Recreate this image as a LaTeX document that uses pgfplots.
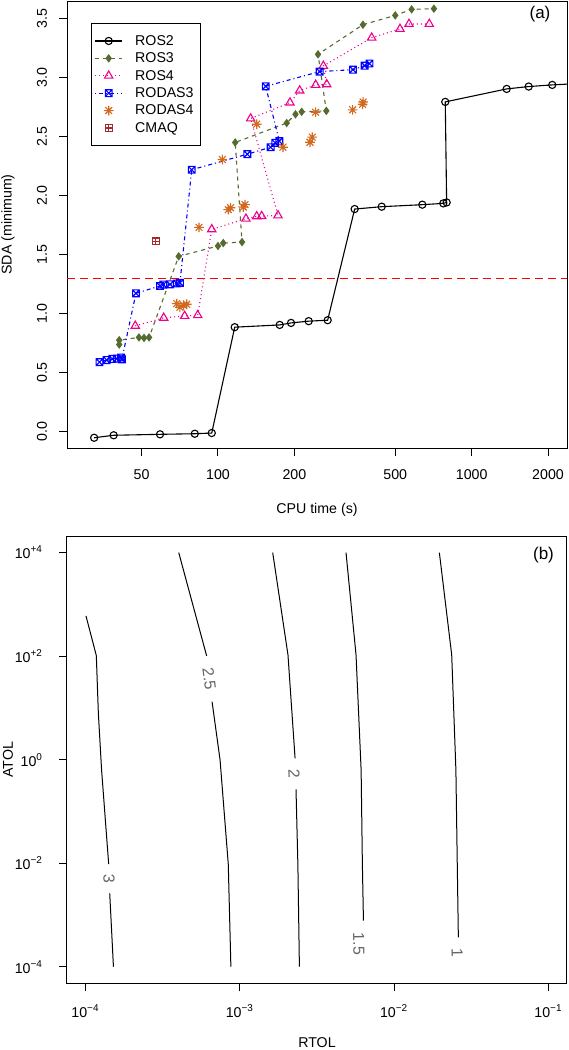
\documentclass[border=0pt]{standalone}
\usepackage{pgfplots}
\pgfplotsset{compat=1.18}
\usepackage{fontspec}
\setmainfont{Liberation Sans}
\definecolor{ros3c}{HTML}{556B2F}
\definecolor{rodas4c}{HTML}{D2691E}
\definecolor{cmaqc}{HTML}{A52A2A}
\pgfdeclareplotmark{boxtimes}{%
  \pgfpathrectangle{\pgfpoint{-\pgfplotmarksize}{-\pgfplotmarksize}}{\pgfpoint{2\pgfplotmarksize}{2\pgfplotmarksize}}%
  \pgfpathmoveto{\pgfpoint{-\pgfplotmarksize}{-\pgfplotmarksize}}\pgfpathlineto{\pgfpoint{\pgfplotmarksize}{\pgfplotmarksize}}%
  \pgfpathmoveto{\pgfpoint{-\pgfplotmarksize}{\pgfplotmarksize}}\pgfpathlineto{\pgfpoint{\pgfplotmarksize}{-\pgfplotmarksize}}%
  \pgfusepathqstroke}
\pgfdeclareplotmark{boxplus}{%
  \pgfpathrectangle{\pgfpoint{-\pgfplotmarksize}{-\pgfplotmarksize}}{\pgfpoint{2\pgfplotmarksize}{2\pgfplotmarksize}}%
  \pgfpathmoveto{\pgfpoint{-\pgfplotmarksize}{0pt}}\pgfpathlineto{\pgfpoint{\pgfplotmarksize}{0pt}}%
  \pgfpathmoveto{\pgfpoint{0pt}{\pgfplotmarksize}}\pgfpathlineto{\pgfpoint{0pt}{-\pgfplotmarksize}}%
  \pgfusepathqstroke}
\pgfdeclareplotmark{rast}{%
  \pgfpathmoveto{\pgfpoint{-\pgfplotmarksize}{0pt}}\pgfpathlineto{\pgfpoint{\pgfplotmarksize}{0pt}}%
  \pgfpathmoveto{\pgfpoint{0pt}{-\pgfplotmarksize}}\pgfpathlineto{\pgfpoint{0pt}{\pgfplotmarksize}}%
  \pgfpathmoveto{\pgfpoint{-0.707\pgfplotmarksize}{-0.707\pgfplotmarksize}}\pgfpathlineto{\pgfpoint{0.707\pgfplotmarksize}{0.707\pgfplotmarksize}}%
  \pgfpathmoveto{\pgfpoint{-0.707\pgfplotmarksize}{0.707\pgfplotmarksize}}\pgfpathlineto{\pgfpoint{0.707\pgfplotmarksize}{-0.707\pgfplotmarksize}}%
  \pgfusepathqstroke}
\begin{document}
\begin{tikzpicture}
\pgfplotsset{
  every axis/.append style={
    font=\fontsize{7.1}{8.5}\selectfont,
    scale only axis, width=250pt,
    axis line style={line width=0.5pt},
    tick style={line width=0.5pt, black},
    major tick length=4pt, tick align=outside,
    xtick pos=bottom, ytick pos=left,
    xminorticks=false, yminorticks=false,
    /pgf/number format/assume math mode=true,
    every axis x label/.style={at={(axis description cs:0.5,-0.138)},anchor=center},
    every axis y label/.style={at={(axis description cs:-0.118,0.5)},rotate=90,anchor=center},
  },
}
% ---------------- panel (a)
\begin{axis}[
  at={(33.5pt,-0.5pt)}, anchor=north west, height=223.5pt,
  xmode=log, xmin=25.4, xmax=2376, ymin=-0.138, ymax=3.65,
  xtick={50,100,200,500,1000,2000}, xticklabels={50,100,200,500,1000,2000},
  ytick={0,0.5,1,1.5,2,2.5,3,3.5}, yticklabels={0.0,0.5,1.0,1.5,2.0,2.5,3.0,3.5},
  xticklabel style={yshift=-3.5pt},
  yticklabel style={xshift=-2.5pt,rotate=90,anchor=south},
  xlabel={CPU time (s)}, ylabel={SDA (minimum)},
  legend style={at={(0.048,0.95)}, anchor=north west, draw=black, line width=0.5pt,
    font=\fontsize{7.1}{8.5}\selectfont, inner xsep=1.5pt, inner ysep=4.2pt, row sep=0pt,
    nodes={inner ysep=0.3pt, text height=6.2pt, text depth=1.9pt}},
  legend cell align=left,
  legend image code/.code={\draw[mark repeat=2,mark phase=2] plot coordinates {(0cm,0cm) (0.24cm,0cm) (0.48cm,0cm)}; \path (17.8pt,0pt);},
]
\addplot[red, line width=0.75pt, dash pattern=on 4pt off 2.5pt, forget plot] coordinates {(20,1.3) (3000,1.3)};
\addplot[black, line width=0.55pt, mark=o, mark size=1.8pt] coordinates {
(32.5,-0.051) (38.8,-0.030) (59.1,-0.022) (81.0,-0.017) (94.5,-0.011) (116.4,0.886) (175.1,0.905) (194.1,0.922) (227.8,0.937) (270.6,0.945) (345.8,1.887) (441.9,1.907) (638.9,1.924) (773,1.935) (797,1.943) (787,2.795) (1374,2.905) (1678,2.925) (2078,2.939) (2397,2.946)};
\addlegendentry{ROS2}
\addplot[ros3c, line width=0.55pt, dash pattern=on 2pt off 2pt, mark=diamond*, mark size=1.7pt, mark options={solid}] coordinates {
(40.8,0.739) (40.8,0.776) (48.8,0.799) (51.1,0.795) (53.5,0.799) (70.0,1.486) (100,1.574) (104.9,1.599) (124.4,1.607) (116.9,2.451) (186.6,2.616) (202.1,2.690) (213.8,2.711) (267.3,2.719) (247.9,3.198) (372.8,3.449) (499.8,3.528) (580,3.579) (710,3.585)};
\addlegendentry{ROS3}
\addplot[magenta, line width=0.55pt, dash pattern=on 0.5pt off 1.5pt, mark=triangle, mark size=2.4pt, mark options={solid}] coordinates {
(47.2,0.897) (61.1,0.965) (73.9,0.981) (83.2,0.987) (94.5,1.715) (128.9,1.805) (142.1,1.825) (148.7,1.827) (172.4,1.833) (134.5,2.654) (192.2,2.789) (209.9,2.891) (242.7,2.939) (268.3,2.944) (260.2,3.100) (403.5,3.339) (521.7,3.413) (566.2,3.455) (680.7,3.455)};
\addlegendentry{ROS4}
\addplot[blue, line width=0.55pt, dash pattern=on 0.5pt off 1.5pt on 2pt off 1.5pt, mark=boxtimes, mark size=1.7pt, mark options={solid}] coordinates {
(34.1,0.590) (36.4,0.607) (38.3,0.617) (39.9,0.620) (41.5,0.629) (41.8,0.613) (47.5,1.173) (59.1,1.235) (60.9,1.247) (64.7,1.249) (68.8,1.256) (70.8,1.262) (78.8,2.220) (130.5,2.352) (161.3,2.411) (168.2,2.448) (174.5,2.462) (154.2,2.927) (251.7,3.052) (340.5,3.068) (378.7,3.102) (395.6,3.120)};
\addlegendentry{RODAS3}
\addplot[rodas4c, line width=0.55pt, only marks, mark=rast, mark size=2.4pt] coordinates {
(68.8,1.086) (70.8,1.055) (73.1,1.072) (75.3,1.080) (84.2,1.732) (104,2.307) (109.8,1.882) (112.2,1.898) (125.8,1.904) (127.8,1.924) (142.1,2.606) (180.4,2.411) (230.5,2.453) (235.3,2.496) (242.7,2.707) (339.6,2.728) (371.9,2.775) (373.5,2.794)};
\addlegendentry{RODAS4}
\addplot[cmaqc, line width=0.55pt, only marks, mark=boxplus, mark size=1.7pt] coordinates {(56.8,1.613)};
\addlegendentry{CMAQ}
\node[anchor=center, font=\fontsize{8.5}{10}\selectfont] at (rel axis cs:0.946,0.971) {(a)};
\end{axis}
% ---------------- panel (b)
\begin{axis}[
  at={(33.5pt,-268pt)}, anchor=north west, height=223.65pt,
  xmode=log, ymode=log, xmin=7.586e-5, xmax=0.1318, ymin=4.786e-5, ymax=20893,
  xtick={1e-4,1e-3,1e-2,1e-1},
  xticklabels={10\textsuperscript{−4},10\textsuperscript{−3},10\textsuperscript{−2},10\textsuperscript{−1}},
  ytick={1e-4,1e-2,1,1e2,1e4},
  yticklabels={10\textsuperscript{−4},10\textsuperscript{−2},10\textsuperscript{0},10\textsuperscript{+2},10\textsuperscript{+4}},
  xticklabel style={yshift=-3pt},
  yticklabel style={xshift=-4.5pt},
  every axis x label/.style={at={(axis description cs:0.5,-0.1335)},anchor=center},
  xlabel={RTOL}, ylabel={ATOL},
]
\addplot[black, line width=0.5pt] coordinates {(1.007e-4,598) (1.175e-4,102.3) (1.211e-4,7.98) (1.271e-4,0.632) (1.413e-4,9.64e-3)};
\addplot[black, line width=0.5pt] coordinates {(1.435e-4,2.62e-3) (1.517e-4,1e-4)};
\addplot[black, line width=0.5pt] coordinates {(4.018e-4,1e4) (6.095e-4,100.9)};
\addplot[black, line width=0.5pt] coordinates {(6.607e-4,13.2) (7.447e-4,0.986) (8.414e-4,9.66e-3) (8.75e-4,1e-4)};
\addplot[black, line width=0.5pt] coordinates {(1.633e-3,1e4) (2.051e-3,105.4) (2.280e-3,1.064)};
\addplot[black, line width=0.5pt] coordinates {(2.312e-3,0.268) (2.377e-3,9.66e-3) (2.432e-3,1e-4)};
\addplot[black, line width=0.5pt] coordinates {(4.875e-3,1e4) (5.662e-3,105.4) (6.109e-3,0.632) (6.223e-3,9.66e-3) (6.324e-3,7.74e-4)};
\addplot[black, line width=0.5pt] coordinates {(1.963e-2,1e4) (2.360e-2,105.4) (2.512e-2,0.632) (2.564e-2,9.66e-3) (2.606e-2,3.70e-4)};
\node[rotate=-88, text=black!60, font=\fontsize{8}{9}\selectfont] at (axis cs:1.418e-4,5.06e-3) {3};
\node[rotate=-83, text=black!60, font=\fontsize{8}{9}\selectfont] at (axis cs:6.34e-4,36.2) {2.5};
\node[rotate=-88, text=black!60, font=\fontsize{8}{9}\selectfont] at (axis cs:2.244e-3,0.53) {2};
\node[rotate=-89, text=black!60, font=\fontsize{8}{9}\selectfont] at (axis cs:5.90e-3,2.75e-4) {1.5};
\node[rotate=-89, text=black!60, font=\fontsize{8}{9}\selectfont] at (axis cs:2.565e-2,1.84e-4) {1};
\node[anchor=center, font=\fontsize{8.5}{10}\selectfont] at (rel axis cs:0.953,0.9575) {(b)};
\end{axis}
\pgfresetboundingbox
\useasboundingbox (0pt,0pt) rectangle (284pt,-525pt);
\end{tikzpicture}
\end{document}
